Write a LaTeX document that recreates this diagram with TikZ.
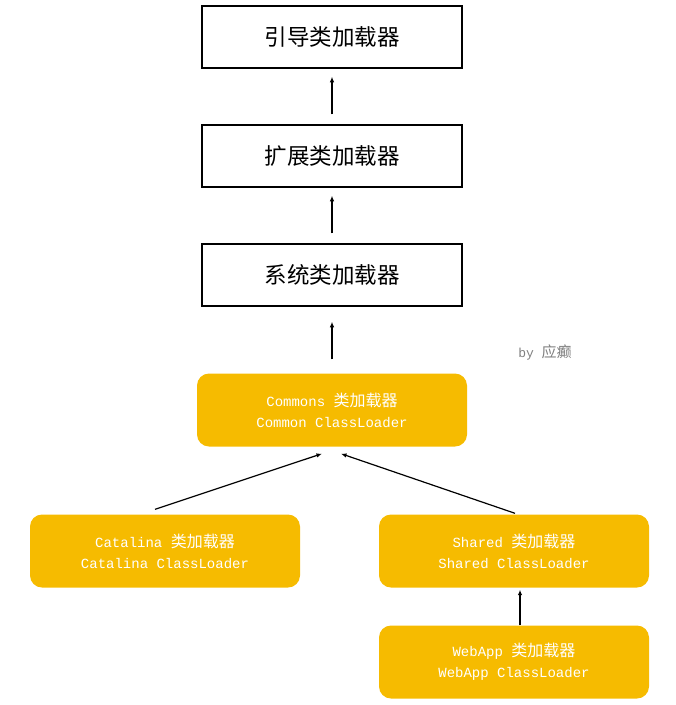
\documentclass[tikz,border=0pt]{standalone}
\usepackage{fontspec}
\setmonofont{Liberation Mono}
\newfontfamily\cjk{Noto Sans CJK SC}
\usetikzlibrary{arrows.meta}
\definecolor{loadercol}{RGB}{246,187,0}
\newcommand{\zh}[1]{{\cjk\fontsize{16}{21}\selectfont #1}}

\begin{document}
\begin{tikzpicture}[x=1pt,y=-1pt,
  jvm/.style={draw,line width=1.5pt,minimum width=260pt,minimum height=62pt,
    inner sep=0pt,font=\cjk\fontsize{22.5}{26}\selectfont},
  tc/.style={fill=loadercol,rounded corners=12pt,minimum width=270pt,
    minimum height=73pt,inner sep=0pt,align=center,text=white,
    font=\ttfamily\fontsize{14}{21}\selectfont},
  up/.style={-{Latex[length=5.5pt,width=4.5pt]},line width=1.2pt}]
\useasboundingbox (0,0) rectangle (676,705);
% JVM side
\node[jvm] (boot) at (332,37) {引导类加载器};
\node[jvm] (ext) at (332,156) {扩展类加载器};
\node[jvm] (app) at (332,275) {系统类加载器};
% Tomcat side
\node[tc] (common) at (332,410) {Commons \zh{类加载器}\\Common ClassLoader};
\node[tc] (catalina) at (165,551) {Catalina \zh{类加载器}\\Catalina ClassLoader};
\node[tc] (shared) at (514,551) {Shared \zh{类加载器}\\Shared ClassLoader};
\node[tc] (webapp) at (514,662) {WebApp \zh{类加载器}\\WebApp ClassLoader};
\node[text=gray,font=\ttfamily\fontsize{13}{15}\selectfont] (author) at (545,352)
  {by {\cjk\fontsize{15}{17}\selectfont 应癫}};
\draw[up] ([shift={(0,-10)}]ext.north) -- ([shift={(0,8)}]boot.south);
\draw[up] ([shift={(0,-10)}]app.north) -- ([shift={(0,8)}]ext.south);
\draw[up] ([shift={(0,-14)}]common.north) -- ([shift={(0,15)}]app.south);
\draw[up] ([shift={(-10,-5)}]catalina.north) -- ([shift={(-10,7)}]common.south);
\draw[up] ([shift={(1,-1)}]shared.north) -- ([shift={(9,7)}]common.south);
\draw[up] ([shift={(6,0)}]webapp.north) -- ([shift={(6,2)}]shared.south);
\end{tikzpicture}
\end{document}
